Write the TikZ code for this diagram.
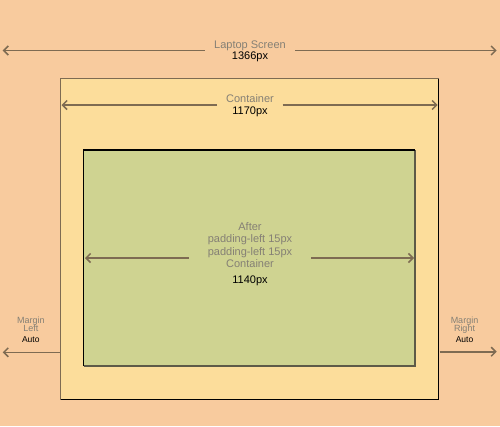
\documentclass[tikz,border=0pt]{standalone}
\usepackage{fontspec}
\setmainfont{Liberation Sans}
\usetikzlibrary{arrows.meta}
\definecolor{bgpeach}{HTML}{F8CB9E}
\definecolor{contfill}{HTML}{FCDD9B}
\definecolor{innerfill}{HTML}{CFD391}
\definecolor{dimline}{HTML}{7E6B52}
\definecolor{labgray}{HTML}{858075}
\definecolor{innerright}{HTML}{5E5A48}
\tikzset{
  dim/.style={draw=dimline, line width=1.6pt, -{Straight Barb[length=4.5pt,width=9pt,line width=1.5pt]}},
  lab/.style={font=\fontsize{11}{13}\selectfont, text=labgray, inner sep=0pt, anchor=base},
  val/.style={font=\fontsize{11}{13}\selectfont, text=black, inner sep=0pt, anchor=base},
  mlab/.style={font=\fontsize{9}{9}\selectfont, text=labgray, inner sep=0pt, anchor=base},
  mval/.style={font=\fontsize{8.5}{9}\selectfont, text=black, inner sep=0pt, anchor=base},
}
\begin{document}
\begin{tikzpicture}[x=1pt,y=-1pt]
\useasboundingbox (0,0) rectangle (500,426);
\fill[bgpeach] (0,0) rectangle (500,426);
% container
\coordinate (cTL) at (60.7,78.5);
\coordinate (cBR) at (438.5,399.5);
\fill[contfill] (cTL) rectangle (cBR);
\draw[dimline, line width=1.4pt] (cTL |- cBR) -- (cTL) -- (cBR |- cTL);
\draw[black, line width=1.4pt] (cBR |- cTL) -- (cBR) -- (cTL |- cBR);
% inner
\coordinate (iTL) at (83.5,150);
\coordinate (iBR) at (415,366);
\fill[innerfill] (iTL) rectangle (iBR);
\draw[innerright, line width=1.4pt] (iBR |- iTL) -- (iBR) -- (iTL |- iBR);
\draw[black, line width=1.4pt] (iTL |- iBR) -- (iTL) -- (iBR |- iTL);

% Laptop screen
\node[lab] (lsT) at (250,48.3) {Laptop Screen};
\node[val] (lsV) at (250,59.5) {1366px};
\coordinate (lsGL) at (204.7,50.5);
\coordinate (lsGR) at (295,50.5);
\coordinate (lsL) at (2.7,50.5);
\coordinate (lsR) at (496.7,50.5);
\draw[dim] (lsGL) -- (lsL);
\draw[dim] (lsGR) -- (lsR);

% Container
\node[lab] (cT) at (250,102.3) {Container};
\node[val] (cV) at (250,114.2) {1170px};
\coordinate (cGL) at (217,105);
\coordinate (cGR) at (282.7,105);
\coordinate (cL) at (61.5,105);
\coordinate (cR) at (437.7,105);
\draw[dim] (cGL) -- (cL);
\draw[dim] (cGR) -- (cR);

% Inner
\node[lab] (i1) at (250,230.7) {After};
\node[lab] (i2) at (250,242.8) {padding-left 15px};
\node[lab] (i3) at (250,255.1) {padding-left 15px};
\node[lab] (i4) at (250,267.4) {Container};
\node[val] (iV) at (250,283.5) {1140px};
\coordinate (iGL) at (189,258);
\coordinate (iGR) at (311,258);
\coordinate (iL) at (85,258);
\coordinate (iR) at (414,258);
\draw[dim] (iGL) -- (iL);
\draw[dim] (iGR) -- (iR);

% Margin left
\node[mlab] (ml1) at (30.8,323.5) {Margin};
\node[mlab] (ml2) at (30.8,331.2) {Left};
\node[mval] (ml3) at (30.8,342.7) {Auto};
\coordinate (mlS) at (60,352.3);
\coordinate (mlE) at (2.7,352.3);
\draw[dim] (mlS) -- (mlE);

% Margin right
\node[mlab] (mr1) at (464.5,323.5) {Margin};
\node[mlab] (mr2) at (464.5,331.2) {Right};
\node[mval] (mr3) at (464.5,342.7) {Auto};
\coordinate (mrS) at (439.5,351.7);
\coordinate (mrE) at (496.7,351.7);
\draw[dim] (mrS) -- (mrE);
\end{tikzpicture}
\end{document}
